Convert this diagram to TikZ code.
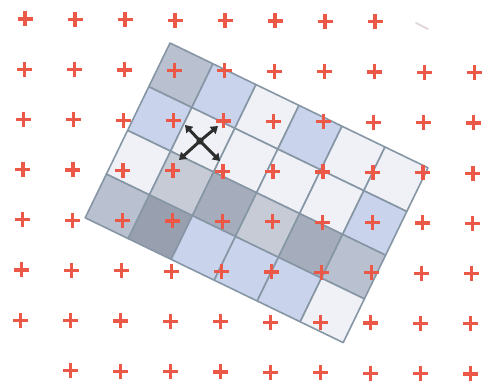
\documentclass[tikz,border=0pt]{standalone}
\usetikzlibrary{arrows.meta}
\definecolor{plusred}{RGB}{236,88,72}
\definecolor{gridline}{RGB}{134,150,164}
\definecolor{cgray}{RGB}{185,192,207}
\definecolor{cblue}{RGB}{201,211,236}
\definecolor{cwhite}{RGB}{239,241,247}
\definecolor{cdark}{RGB}{165,173,188}
\definecolor{cdarkest}{RGB}{152,160,176}
\definecolor{clgray}{RGB}{198,203,214}
\definecolor{iconcol}{RGB}{45,45,45}
\tikzset{
  cellbox/.style={draw=gridline, line width=1.6pt, line join=round},
  plusmark/.style={draw=plusred, line width=3.2pt},
  iconarrow/.style={draw=iconcol, line width=3pt, -{Triangle[length=7pt,width=9pt]}}
}
\begin{document}
\begin{tikzpicture}[x=1pt,y=-1pt]
\useasboundingbox (0,0) rectangle (491,385);
% cells
\def\ux{43.0}\def\uy{20.8}\def\vx{-21.2}\def\vy{43.7}
\foreach \row/\cols in {0/{cgray,cblue,cwhite,cblue,cwhite,cwhite},
                        1/{cblue,cwhite,cwhite,cwhite,cwhite,cblue},
                        2/{cwhite,clgray,cdark,clgray,cdark,cgray},
                        3/{cgray,cdarkest,cblue,cblue,cblue,cwhite}}{
  \foreach \c [count=\k from 0] in \cols {
    \path[cellbox, fill=\c]
      ({170+\ux*\k+\vx*\row},{43+\uy*\k+\vy*\row}) coordinate (p)
      -- ++(\ux,\uy) -- ++(\vx,\vy) -- ++(-\ux,-\uy) -- cycle;
  }
}
% pluses
\foreach \r in {0,...,7}{
  \foreach \i in {0,...,9}{
    \pgfmathsetmacro{\skip}{(\r==0 && \i>7) || (\r==7 && \i==0) ? 1 : 0}
    \ifdim\skip pt<0.5pt
      \path[plusmark] ({25+50*\i-0.7*\r-7.5},{19+50.2*\r+0.4*\i}) -- ++(15,0);
      \path[plusmark] ({25+50*\i-0.7*\r},{19+50.2*\r+0.4*\i-7.5}) -- ++(0,15);
    \fi
  }
}
% faint smudge
\draw[line width=2pt, color=plusred!25!gray!30, line cap=round] (416,23) -- (428,29);
% move icon
\coordinate (ctr) at (200,141);
\fill[iconcol] (ctr) circle (3.6);
\draw[iconarrow] (ctr) -- ++(-15,-16);
\draw[iconarrow] (ctr) -- ++(18,-15);
\draw[iconarrow] (ctr) -- ++(-21,19);
\draw[iconarrow] (ctr) -- ++(20,20);
\end{tikzpicture}
\end{document}
